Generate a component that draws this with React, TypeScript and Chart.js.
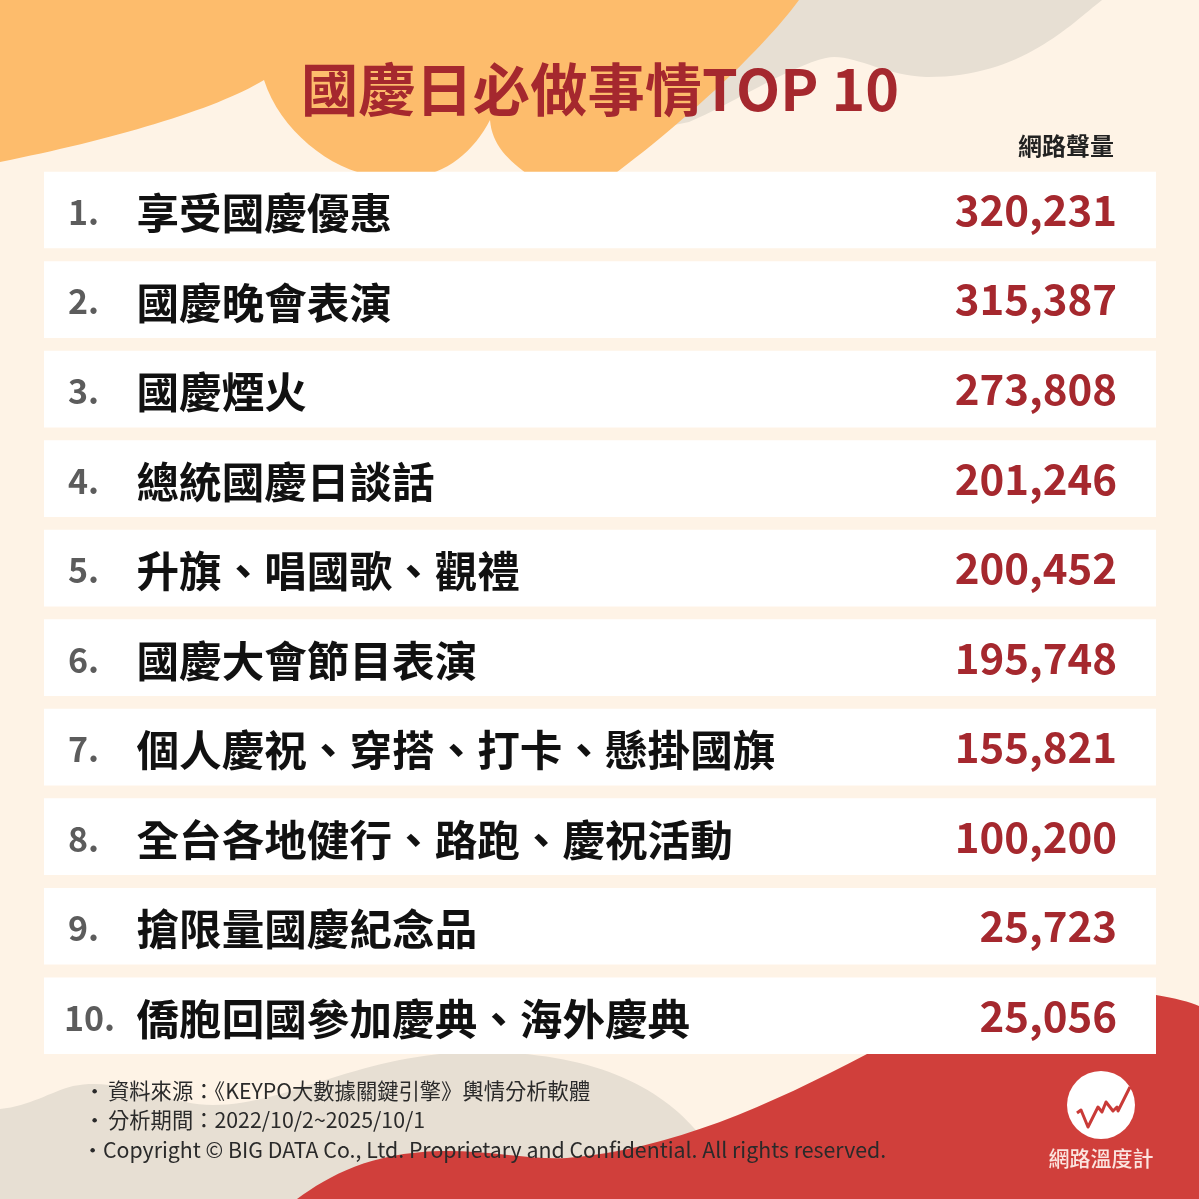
import { useEffect, useRef } from 'react';
import { Chart, registerables } from 'chart.js';

Chart.register(...registerables);

const CJK = '"Noto Sans CJK TC", "Noto Sans", sans-serif';

const titleText = '國慶日必做事情TOP 10';
const valueHeader = '網路聲量';
const ranks = ['1.', '2.', '3.', '4.', '5.', '6.', '7.', '8.', '9.', '10.'];
const categories = [
  '享受國慶優惠',
  '國慶晚會表演',
  '國慶煙火',
  '總統國慶日談話',
  '升旗、唱國歌、觀禮',
  '國慶大會節目表演',
  '個人慶祝、穿搭、打卡、懸掛國旗',
  '全台各地健行、路跑、慶祝活動',
  '搶限量國慶紀念品',
  '僑胞回國參加慶典、海外慶典',
];
const values = [320231, 315387, 273808, 201246, 200452, 195748, 155821, 100200, 25723, 25056];
const footnotes = [
  '資料來源：《KEYPO大數據關鍵引擎》輿情分析軟體',
  '分析期間：2022/10/2~2025/10/1',
  'Copyright © BIG DATA Co., Ltd. Proprietary and Confidential. All rights reserved.',
];
const brand = '網路溫度計';

const AXIS_MAX = 400000;

// decorative shapes and footer, drawn behind and over the table
const backdrop = {
  id: 'backdrop',
  beforeDraw(chart: Chart) {
    const c = chart.ctx;
    c.save();
    c.fillStyle = '#fef3e6';
    c.fillRect(0, 0, chart.width, chart.height);

    // top grey
    c.fillStyle = '#e7dfd3';
    c.beginPath();
    c.moveTo(780, 0);
    c.lineTo(1102, 0);
    c.bezierCurveTo(1070, 25, 1020, 78, 926, 77);
    c.bezierCurveTo(885, 76, 850, 52, 826, 58);
    c.bezierCurveTo(790, 66, 730, 105, 689, 122);
    c.lineTo(650, 130);
    c.closePath();
    c.fill();

    // top orange
    c.fillStyle = '#fdbc6c';
    c.beginPath();
    c.moveTo(0, 0);
    c.lineTo(799, 0);
    c.bezierCurveTo(770, 40, 700, 110, 612, 176);
    c.lineTo(530, 176);
    c.bezierCurveTo(508, 160, 492, 145, 490, 120);
    c.bezierCurveTo(475, 150, 445, 176, 413, 176);
    c.lineTo(375, 176);
    c.bezierCurveTo(330, 170, 280, 130, 264, 80);
    c.bezierCurveTo(215, 110, 110, 140, 0, 162);
    c.closePath();
    c.fill();

    // bottom grey
    c.fillStyle = '#e7dfd3';
    c.beginPath();
    c.moveTo(0, 1109);
    c.bezierCurveTo(30, 1106, 50, 1092, 73, 1086);
    c.bezierCurveTo(120, 1076, 170, 1105, 213, 1105);
    c.bezierCurveTo(290, 1105, 360, 1052, 480, 1052);
    c.bezierCurveTo(590, 1052, 660, 1085, 700, 1135);
    c.lineTo(700, 1199);
    c.lineTo(0, 1199);
    c.closePath();
    c.fill();

    // bottom red
    c.fillStyle = '#d03f3b';
    c.beginPath();
    c.moveTo(297, 1199);
    c.bezierCurveTo(330, 1175, 370, 1153, 440, 1151);
    c.bezierCurveTo(490, 1150, 530, 1160, 567, 1158);
    c.bezierCurveTo(670, 1150, 770, 1105, 867, 1054);
    c.bezierCurveTo(950, 1015, 1090, 985, 1156, 995);
    c.bezierCurveTo(1175, 998, 1190, 1002, 1199, 1006);
    c.lineTo(1199, 1199);
    c.closePath();
    c.fill();
    c.restore();
  },
  afterDraw(chart: Chart) {
    const c = chart.ctx;
    const yScale = chart.scales.y;
    c.save();
    c.textBaseline = 'middle';

    // rank, name and value columns
    const names = chart.data.labels as string[];
    const shown = chart.data.datasets[1].data as number[];
    ranks.forEach((rank, i) => {
      const y = yScale.getPixelForValue(i);
      c.textAlign = 'left';
      c.fillStyle = '#5c5c5c';
      c.font = `bold 34px ${CJK}`;
      c.fillText(rank, rank.length > 2 ? 64 : 68, y + 2);
      c.fillStyle = '#111111';
      c.font = `bold 42.6px ${CJK}`;
      c.fillText(names[i], 136.5, y + 3);
      c.textAlign = 'right';
      c.fillStyle = '#a5282e';
      c.font = `bold 42px ${CJK}`;
      c.fillText(shown[i].toLocaleString('en-US'), 1117, y);
    });

    c.textAlign = 'left';
    c.fillStyle = '#222222';
    c.font = `bold 24px ${CJK}`;
    c.fillText(valueHeader, 1018, 146);

    // footer
    c.fillStyle = '#2a2a2a';
    c.font = `21.3px ${CJK}`;
    c.fillText('・', 84, 1091);
    c.fillText('・', 84, 1120);
    c.fillText('・', 82, 1150);
    c.fillText(footnotes[0], 108, 1091);
    c.fillText(footnotes[1], 108, 1120);
    c.fillText(footnotes[2], 103, 1150);

    // logo
    c.fillStyle = '#ffffff';
    c.beginPath();
    c.arc(1101, 1105, 34, 0, Math.PI * 2);
    c.fill();
    c.strokeStyle = '#c93a37';
    c.lineWidth = 3;
    c.lineJoin = 'round';
    c.beginPath();
    c.moveTo(1077, 1113);
    c.lineTo(1081, 1110);
    c.lineTo(1088, 1127);
    c.lineTo(1098, 1107);
    c.lineTo(1102, 1112);
    c.lineTo(1106, 1102);
    c.lineTo(1113, 1111);
    c.lineTo(1117, 1107);
    c.lineTo(1118, 1111);
    c.lineTo(1130, 1087);
    c.stroke();
    c.fillStyle = '#fbe4df';
    c.textAlign = 'center';
    c.font = `500 21px ${CJK}`;
    c.fillText(brand, 1101, 1158);
    c.restore();
  },
};

export default function App() {
  const canvasRef = useRef<HTMLCanvasElement>(null);

  useEffect(() => {
    if (!canvasRef.current) return;

    const chart = new Chart(canvasRef.current, {
      type: 'bar',
      plugins: [backdrop],
      data: {
        labels: categories,
        datasets: [
          {
            // white row behind each entry
            label: 'rows',
            data: categories.map(() => AXIS_MAX),
            backgroundColor: '#ffffff',
            barThickness: 76,
            grouped: false,
          },
          {
            label: valueHeader,
            data: values,
            backgroundColor: 'transparent',
            barThickness: 76,
            grouped: false,
          },
        ],
      },
      options: {
        indexAxis: 'y',
        responsive: false,
        animation: false,
        layout: { padding: { left: 44, right: 43, top: 0, bottom: 138.5 } },
        plugins: {
          legend: { display: false },
          tooltip: { enabled: false },
          title: {
            display: true,
            text: titleText,
            color: '#a5282e',
            font: { size: 57.3, weight: 'bold', family: CJK },
            padding: { top: 55, bottom: 41.5 },
          },
        },
        scales: {
          x: { display: false, min: 0, max: AXIS_MAX },
          y: { display: false },
        },
      },
    });

    return () => chart.destroy();
  }, []);

  return (
    <div style={{ position: 'absolute', left: 0, top: 0, width: 1199, height: 1199 }}>
      <canvas ref={canvasRef} width={1199} height={1199} style={{ display: 'block' }} />
    </div>
  );
}
